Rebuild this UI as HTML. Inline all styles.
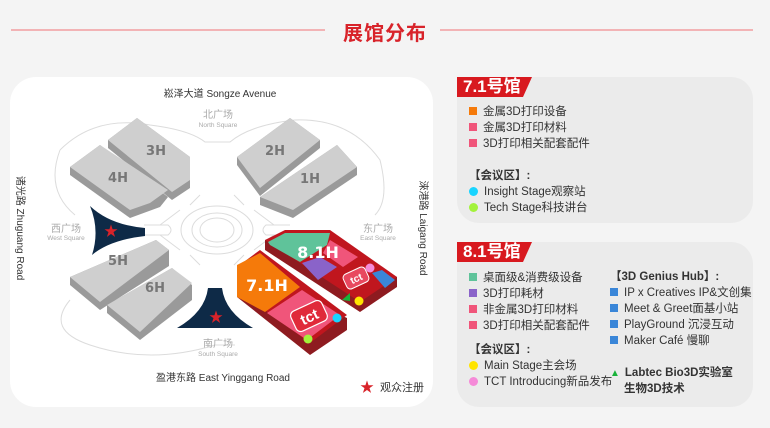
<!DOCTYPE html>
<html><head><meta charset="utf-8"><style>
*{margin:0;padding:0;box-sizing:border-box}
body{width:770px;height:428px;background:#f4f4f4;font-family:"Liberation Sans","Noto Sans CJK SC",sans-serif;position:relative;overflow:hidden}
.abs{position:absolute}
.title{left:343px;top:17px;font-size:20px;font-weight:bold;color:#d8232a;letter-spacing:1px}
.line{height:2px;background:#f2b3b5;top:29px}
.card{background:#ebebeb;border-radius:22px}
.tag{background:#d8191f;color:#fff;font-weight:bold;font-size:17px;height:20px;line-height:20px;padding-left:6px;clip-path:polygon(0 0,100% 0,88% 100%,0 100%)}
.it{font-size:11.5px;color:#333;height:16px;line-height:16px;white-space:nowrap}
.sq{display:inline-block;width:8px;height:8px;margin-right:6px;vertical-align:0}
.dot{display:inline-block;width:9px;height:9px;border-radius:50%;margin-right:6px;vertical-align:-1px}
.b{font-weight:bold}
</style></head><body>
<div class="abs line" style="left:11px;width:314px"></div>
<div class="abs line" style="left:440px;width:313px"></div>
<div class="abs title">展馆分布</div>

<svg class="abs" style="left:0;top:0" width="445" height="428" viewBox="0 0 445 428">
<rect x="10" y="77" width="423" height="330" rx="26" fill="#fff"/>
<g fill="none" stroke="#dcdcdc" stroke-width="1">
<path d="M60 150 Q95 115 150 125 Q190 130 205 142 L230 142 Q250 125 295 120 Q350 118 380 160 Q390 200 375 215 M60 150 Q45 190 75 215"/>
<path d="M70 300 Q45 330 90 345 Q150 365 215 345 L235 345 M110 300"/>
<ellipse cx="217" cy="230" rx="36" ry="24"/>
<ellipse cx="217" cy="230" rx="25" ry="17"/>
<ellipse cx="217" cy="230" rx="17" ry="12"/>
<path d="M160 225 L180 210 M160 235 L180 250 M274 225 L254 210 M274 235 L254 250 M190 205 L200 195 M244 205 L234 195 M190 255 L200 265 M244 255 L234 265"/>
<path d="M144 225 L168 225 Q174 230 168 235 L144 235 M290 225 L266 225 Q260 230 266 235 L290 235"/>
</g>
<g font-family="Liberation Sans,Noto Sans CJK SC,sans-serif" text-anchor="middle">
<text x="220" y="97" font-size="10" fill="#333">崧泽大道 Songze Avenue</text>
<text x="218" y="118" font-size="10" fill="#aaa">北广场</text>
<text x="218" y="127" font-size="6.5" fill="#aaa">North Square</text>
<text x="66" y="232" font-size="10" fill="#aaa">西广场</text>
<text x="66" y="240" font-size="6.5" fill="#aaa">West Square</text>
<text x="378" y="232" font-size="10" fill="#aaa">东广场</text>
<text x="378" y="240" font-size="6.5" fill="#aaa">East Square</text>
<text x="218" y="347" font-size="10" fill="#aaa">南广场</text>
<text x="218" y="356" font-size="6.5" fill="#aaa">South Square</text>
<text x="223" y="381" font-size="10" fill="#333">盈港东路 East Yinggang Road</text>
<text x="0" y="0" font-size="10" fill="#333" transform="translate(17,228) rotate(90)">诸光路 Zhuguang Road</text>
<text x="0" y="0" font-size="10" fill="#333" transform="translate(420,228) rotate(90)">淶港路 Laigang Road</text>
</g>
<!-- gray blocks -->
<g>
<polygon points="108,140 108,148 172,200 190,188 190,157 137,118" fill="#9a9a9a"/>
<polygon points="108,140 137,118 190,157 190,180 172,192" fill="#cfcfcf"/>
<polygon points="70,167 70,175 130,218 160,207 168,197 100,145" fill="#9a9a9a"/>
<polygon points="70,167 100,145 168,190 150,203 130,210" fill="#cfcfcf"/>
<polygon points="237,157 237,165 260,196 320,148 320,140 290,118" fill="#9a9a9a"/>
<polygon points="237,157 290,118 320,140 260,188" fill="#cfcfcf"/>
<polygon points="260,197 260,205 293,218 357,175 357,167 337,145" fill="#9a9a9a"/>
<polygon points="260,197 337,145 357,167 293,210" fill="#cfcfcf"/>
<polygon points="70,277 70,285 100,310 169,266 169,250 156,240" fill="#9a9a9a"/>
<polygon points="70,277 156,240 169,250 100,302" fill="#cfcfcf"/>
<polygon points="107,305 107,313 140,340 192,300 192,285 172,268" fill="#9a9a9a"/>
<polygon points="107,305 172,268 192,283 140,332" fill="#cfcfcf"/>
</g>
<g font-family="DejaVu Sans,sans-serif" font-weight="bold" font-size="13" fill="#777" text-anchor="middle">
<text x="156" y="155">3H</text><text x="118" y="182">4H</text>
<text x="275" y="155">2H</text><text x="310" y="183">1H</text>
<text x="118" y="265">5H</text><text x="155" y="292">6H</text>
</g>
<!-- navy -->
<path d="M90 206 Q110 225 145 228 L145 236 Q110 240 92 255 Q100 230 90 206Z" fill="#0e2a47"/>
<path d="M208 288 L222 288 Q225 312 253 328 L177 328 Q205 312 208 288Z" fill="#0e2a47"/>
<!-- red halls -->
<polygon points="265,240 265,250 360,312 397,287 397,277" fill="#8e1b20"/>
<polygon points="265,240 285,230 330,230 397,277 360,302" fill="#c0161e"/>
<polygon points="268,242 285,233 330,233 327,245 300,262 270,245" fill="#5fc39a"/>
<polygon points="302,263 320,257 337,267 318,280" fill="#8a63c9"/>
<polygon points="330,240 358,257 343,267 323,253" fill="#f0557a"/>
<polygon points="372,273 382,270 395,280 385,288" fill="#3a86d8"/>
<rect x="344" y="270" width="24" height="16" rx="4" fill="#e8485f" stroke="#fff" stroke-width="1" transform="rotate(-25 356 278)"/>
<text x="356" y="282" font-size="10" font-weight="bold" fill="#fff" text-anchor="middle" transform="rotate(-25 356 278)">tct</text>
<circle cx="370" cy="268" r="4.5" fill="#f58ad8"/>
<circle cx="359" cy="301" r="4.5" fill="#ffe400"/>
<polygon points="342,300 350,293 350,301" fill="#19b33a"/>
<polygon points="237,267 237,297 310,355 347,330 347,318" fill="#8e1b20"/>
<polygon points="237,267 260,250 347,315 310,343 237,290" fill="#c0161e"/>
<polygon points="237,265 260,253 300,287 265,312 237,297" fill="#f57a0a"/>
<polygon points="267,313 302,290 340,315 307,340" fill="#f0557a"/>
<rect x="292" y="305" width="34" height="22" rx="5" fill="#e02a3a" stroke="#fff" stroke-width="1.2" transform="rotate(-25 309 316)"/>
<text x="309" y="322" font-size="15" font-weight="bold" fill="#fff" text-anchor="middle" transform="rotate(-25 309 316)">tct</text>
<circle cx="337" cy="318" r="4.5" fill="#18d4ff"/>
<circle cx="308" cy="339" r="4.5" fill="#a3f23b"/>
<g font-family="DejaVu Sans,sans-serif" font-weight="bold" fill="#fff" text-anchor="middle">
<text x="318" y="258" font-size="16">8.1H</text>
<text x="267" y="291" font-size="16">7.1H</text>
</g>
<text x="216" y="322" font-size="14" fill="#d8232a" text-anchor="middle">★</text>
<text x="111" y="236" font-size="14" fill="#d8232a" text-anchor="middle">★</text>
<text x="367" y="392" font-size="14" fill="#d8232a" text-anchor="middle">★</text>
<text x="380" y="391" font-size="11" fill="#333">观众注册</text>
</svg>

<div class="abs card" style="left:457px;top:77px;width:296px;height:146px"></div>
<div class="abs tag" style="left:457px;top:77px;width:75px">7.1号馆</div>
<div class="abs" style="left:469px;top:104px">
<div class="it"><span class="sq" style="background:#f57a0a"></span>金属3D打印设备</div>
<div class="it"><span class="sq" style="background:#f0557a"></span>金属3D打印材料</div>
<div class="it"><span class="sq" style="background:#f0557a"></span>3D打印相关配套配件</div>
<div class="it b" style="margin-top:16px">【会议区】:</div>
<div class="it"><span class="dot" style="background:#18d4ff"></span>Insight Stage观察站</div>
<div class="it"><span class="dot" style="background:#a3f23b"></span>Tech Stage科技讲台</div>
</div>

<div class="abs card" style="left:457px;top:242px;width:296px;height:165px"></div>
<div class="abs tag" style="left:457px;top:242px;width:75px">8.1号馆</div>
<div class="abs" style="left:469px;top:270px">
<div class="it"><span class="sq" style="background:#5fc39a"></span>桌面级&amp;消费级设备</div>
<div class="it"><span class="sq" style="background:#8a63c9"></span>3D打印耗材</div>
<div class="it"><span class="sq" style="background:#f0557a"></span>非金属3D打印材料</div>
<div class="it"><span class="sq" style="background:#f0557a"></span>3D打印相关配套配件</div>
<div class="it b" style="margin-top:8px">【会议区】:</div>
<div class="it"><span class="dot" style="background:#ffe400"></span>Main Stage主会场</div>
<div class="it"><span class="dot" style="background:#f58ad8"></span>TCT Introducing新品发布</div>
</div>
<div class="abs" style="left:610px;top:269px">
<div class="it b">【3D Genius Hub】:</div>
<div class="it"><span class="sq" style="background:#3a86d8"></span>IP x Creatives IP&amp;文创集</div>
<div class="it"><span class="sq" style="background:#3a86d8"></span>Meet &amp; Greet面基小站</div>
<div class="it"><span class="sq" style="background:#3a86d8"></span>PlayGround 沉浸互动</div>
<div class="it"><span class="sq" style="background:#3a86d8"></span>Maker Café 慢聊</div>
<div class="it b" style="margin-top:16px"><span style="color:#19b33a;font-size:10px;margin-right:5px">▲</span>Labtec Bio3D实验室</div>
<div class="it b" style="padding-left:14px">生物3D技术</div>
</div>
</body></html>
